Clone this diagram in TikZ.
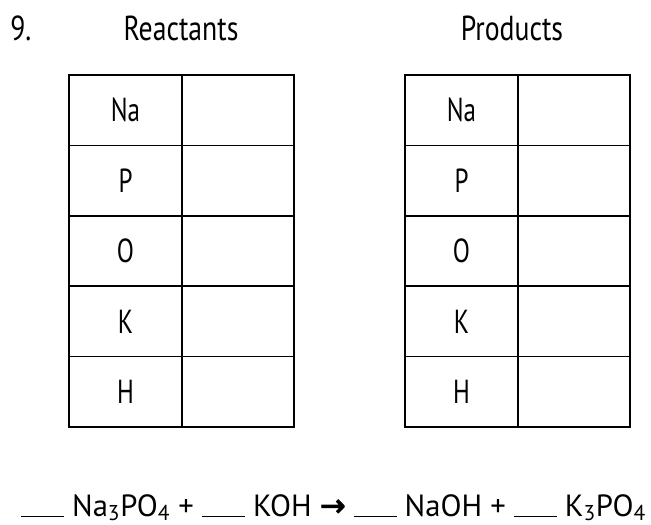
\documentclass[tikz,border=0pt]{standalone}
\usepackage{fontspec}
\setmainfont[FakeStretch=0.8]{PT Sans}
\newfontfamily\arrowfont{DejaVu Sans}[FakeBold=3]
\usepackage{tikz}

\newcommand{\blank}{\rule[-1pt]{32pt}{1.2pt}}

\tikzset{
  heading/.style={font=\fontsize{26}{29}\selectfont, anchor=base, inner sep=0pt},
  element/.style={font=\fontsize{25}{28}\selectfont\addfontfeature{FakeStretch=0.75}, inner sep=0pt},
  tablebox/.style={line width=1.3pt, line cap=rect}
}

\begin{document}
\begin{tikzpicture}[x=0.75pt, y=-0.75pt]
\useasboundingbox (0,0) rectangle (651,525);
% titles
\node[heading, anchor=base west] (Number) at (10,40) {9.};
\node[heading] (Reactants) at (181,40) {Reactants};
\node[heading] (Products) at (512,40) {Products};
% the two tables
\draw[tablebox] (69,75) rectangle (294,427);
\draw[tablebox] (182,75) -- (182,427);
\draw[tablebox] (405,75) rectangle (630,427);
\draw[tablebox] (518,75) -- (518,427);
\foreach \r in {1,2,3,4}{
  \draw[tablebox] (69,75+70.4*\r) -- (294,75+70.4*\r);
  \draw[tablebox] (405,75+70.4*\r) -- (630,75+70.4*\r);
}
\foreach \el [count=\i from 0] in {Na,P,O,K,H}{
  \node[element] (left\el) at (125.5,110.2+70.4*\i) {\el};
  \node[element] (right\el) at (461.5,110.2+70.4*\i) {\el};
}
% equation
\node[anchor=base west, inner sep=0pt, font=\fontsize{23}{26}\selectfont\addfontfeature{FakeStretch=1}] (Equation) at (21,516)
  {\blank\ Na\textsubscript{3}PO\textsubscript{4} + \blank\ KOH {\arrowfont\fontsize{23}{26}\selectfont→} \blank\ NaOH + \blank\ K\textsubscript{3}PO\textsubscript{4}};
\end{tikzpicture}
\end{document}
